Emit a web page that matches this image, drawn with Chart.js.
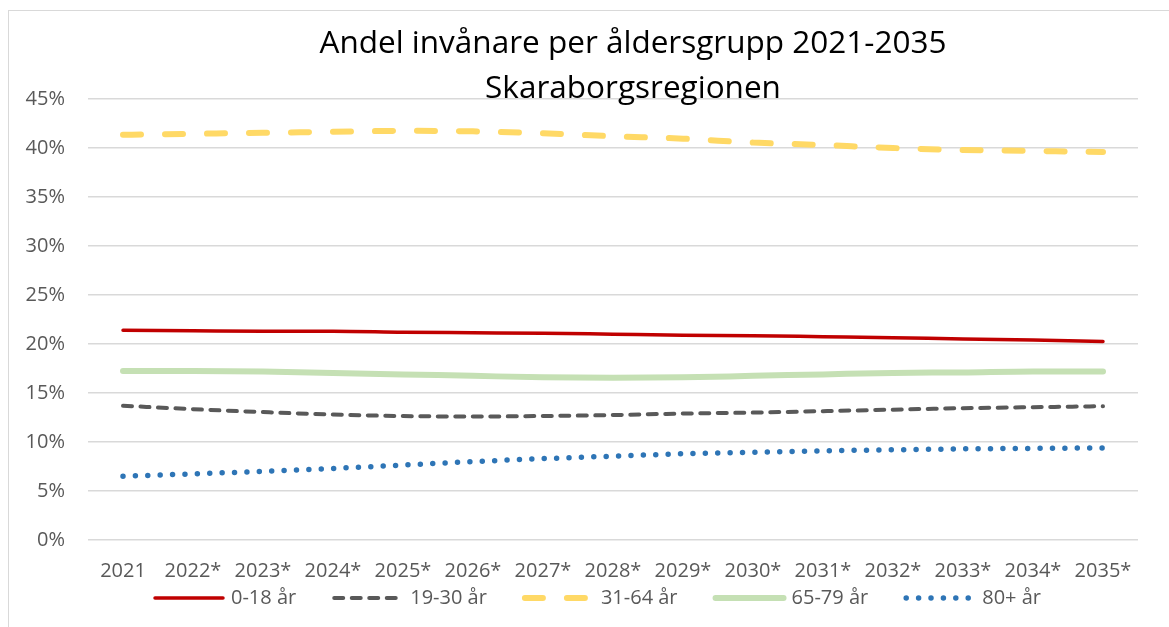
<!DOCTYPE html>
<html>
<head>
<meta charset="utf-8">
<script src="https://cdn.jsdelivr.net/npm/chart.js@4"></script>
<style>
  body { margin: 0; background: #fff; }
  #wrap { position: relative; width: 1169px; height: 627px; overflow: hidden; }
  #ram { position: absolute; left: 8px; top: 10px; width: 1200px; height: 700px; border: 1px solid #d9d9d9; box-sizing: border-box; }
  canvas { position: absolute; left: 0; top: 0; }
</style>
</head>
<body>
<div id="wrap">
  <div id="ram"></div>
  <canvas id="chart" width="1169" height="627"></canvas>
</div>
<script>
// data (procent)
const years = ['2021', '2022*', '2023*', '2024*', '2025*', '2026*', '2027*', '2028*', '2029*', '2030*', '2031*', '2032*', '2033*', '2034*', '2035*'];
const age0to18 = [21.4, 21.35, 21.3, 21.3, 21.2, 21.15, 21.1, 21.0, 20.9, 20.85, 20.75, 20.65, 20.5, 20.4, 20.25];
const age19to30 = [13.7, 13.35, 13.05, 12.8, 12.65, 12.6, 12.65, 12.75, 12.9, 13.0, 13.15, 13.3, 13.45, 13.55, 13.65];
const age31to64 = [41.35, 41.45, 41.55, 41.65, 41.75, 41.7, 41.5, 41.2, 40.95, 40.55, 40.3, 40.0, 39.8, 39.7, 39.6];
const age65to79 = [17.25, 17.25, 17.2, 17.05, 16.9, 16.75, 16.6, 16.55, 16.6, 16.75, 16.9, 17.05, 17.1, 17.2, 17.2];
const age80plus = [6.5, 6.75, 7.0, 7.3, 7.65, 8.0, 8.3, 8.55, 8.8, 8.95, 9.1, 9.2, 9.3, 9.35, 9.4];
const seriesNames = ['0-18 år', '19-30 år', '31-64 år', '65-79 år', '80+ år'];
const yTicks = [0, 5, 10, 15, 20, 25, 30, 35, 40, 45];
const titleLines = ['Andel invånare per åldersgrupp 2021-2035', 'Skaraborgsregionen'];

const FONT = '"Open Sans", Lato, sans-serif';
const grey = '#595959';

// titeln ligger delvis över diagramytan, som i originalet
const titlePlugin = {
    id: 'titleText',
    afterDraw(chart) {
        const ctx = chart.ctx;
        ctx.save();
        ctx.font = '31.5px ' + FONT;
        ctx.fillStyle = '#000';
        ctx.textAlign = 'center';
        ctx.textBaseline = 'alphabetic';
        ctx.fillText(titleLines[0], 633, 53);
        ctx.fillText(titleLines[1], 633, 98);
        ctx.restore();
    }
};

// egen förklaring under x-axeln
const legendPlugin = {
    id: 'lineLegend',
    afterDraw(chart) {
        const ctx = chart.ctx;
        const sets = chart.data.datasets;
        const sample = 70, textGap = 8, itemGap = 36, y = 598;
        ctx.save();
        ctx.font = '20px ' + FONT;
        const widths = sets.map(ds => sample + textGap + ctx.measureText(ds.label).width);
        const total = widths.reduce((a, b) => a + b, 0) + itemGap * (sets.length - 1);
        let x = 597 - total / 2;
        sets.forEach((ds, i) => {
            ctx.strokeStyle = ds.borderColor;
            ctx.lineWidth = ds.borderWidth;
            ctx.lineCap = ds.borderCapStyle || 'butt';
            ctx.setLineDash(ds.borderDash || []);
            ctx.beginPath();
            ctx.moveTo(x + 2, y);
            ctx.lineTo(x + sample, y);
            ctx.stroke();
            ctx.setLineDash([]);
            ctx.fillStyle = grey;
            ctx.textBaseline = 'middle';
            ctx.textAlign = 'left';
            ctx.fillText(ds.label, x + sample + textGap, y);
            x += widths[i] + itemGap;
        });
        ctx.restore();
    }
};

const common = { pointRadius: 0, pointHoverRadius: 0, fill: false, cubicInterpolationMode: 'monotone' };

new Chart(document.getElementById('chart'), {
    type: 'line',
    data: {
        labels: years,
        datasets: [
            { ...common, label: seriesNames[0], data: age0to18, borderColor: '#C00000', borderWidth: 3.5, borderCapStyle: 'round' },
            { ...common, label: seriesNames[1], data: age19to30, borderColor: '#595959', borderWidth: 4, borderDash: [9, 8.5], borderCapStyle: 'round' },
            { ...common, label: seriesNames[2], data: age31to64, borderColor: '#FFD966', borderWidth: 6, borderDash: [18, 24], borderCapStyle: 'round' },
            { ...common, label: seriesNames[3], data: age65to79, borderColor: '#C5E0B4', borderWidth: 6, borderCapStyle: 'round' },
            { ...common, label: seriesNames[4], data: age80plus, borderColor: '#2E75B6', borderWidth: 5.5, borderDash: [0, 12.4], borderCapStyle: 'round' }
        ]
    },
    options: {
        responsive: false,
        animation: false,
        layout: { padding: { left: 10, right: 31, top: 99, bottom: 42 } },
        plugins: {
            title: { display: false },
            tooltip: { enabled: false },
            legend: { display: false }
        },
        scales: {
            x: {
                offset: true,
                grid: { display: false, drawTicks: false },
                border: { display: false },
                ticks: { color: grey, font: { family: FONT, size: 20 }, padding: 19, maxRotation: 0, autoSkip: false },
                afterFit(scale) { scale.height = 45; }
            },
            y: {
                min: 0,
                max: 45,
                afterBuildTicks(scale) { scale.ticks = yTicks.map(v => ({ value: v })); },
                grid: { color: '#d9d9d9', lineWidth: 1.5, drawTicks: false },
                border: { display: false },
                ticks: { color: grey, font: { family: FONT, size: 20 }, padding: 23, callback: v => v + '%' },
                afterFit(scale) { scale.width = 78; }
            }
        }
    },
    plugins: [titlePlugin, legendPlugin]
});
</script>
</body>
</html>
